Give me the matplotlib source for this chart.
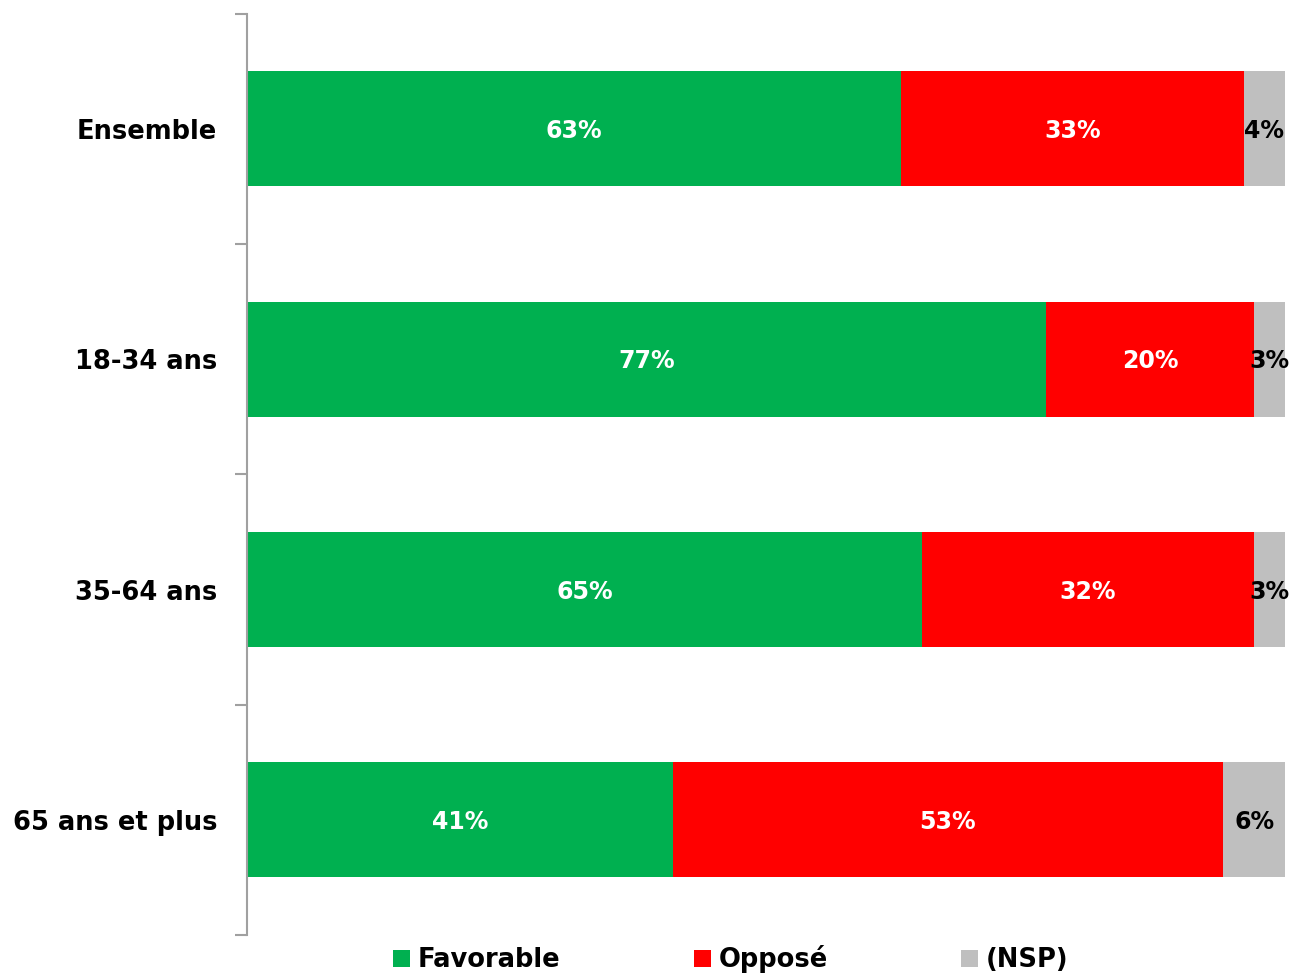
import matplotlib
matplotlib.use("Agg")
import matplotlib.pyplot as plt
import numpy as np

categories = ["Ensemble", "18-34 ans", "35-64 ans", "65 ans et plus"]
favorable = [63, 77, 65, 41]
oppose = [33, 20, 32, 53]
nsp = [4, 3, 3, 6]
series_names = ["Favorable", "Opposé", "(NSP)"]
colors = ["#00B050", "#FF0000", "#BFBFBF"]
text_colors = ["white", "white", "black"]

plt.rcParams["font.family"] = ["DejaVu Sans"]
plt.rcParams["font.weight"] = "bold"

fig = plt.figure(figsize=(12.93, 9.75), dpi=100)
ax = fig.add_axes([0.191, 0.041, 0.803, 0.945])

y = np.arange(len(categories))
left = np.zeros(len(categories))
for vals, name, col, tc in zip([favorable, oppose, nsp], series_names, colors, text_colors):
    vals = np.array(vals, dtype=float)
    ax.barh(y, vals, left=left, height=0.5, color=col, label=name)
    for yi, l, v in zip(y, left, vals):
        ax.text(l + v / 2, yi + 0.01, "%d%%" % v, ha="center", va="center",
                color=tc, fontsize=17, fontweight="bold")
    left += vals

ax.set_xlim(0, 100)
ax.set_ylim(len(categories) - 0.5, -0.5)
ax.set_xticks([])
ax.set_yticks(y)
ax.set_yticklabels(categories, fontsize=18.5, fontweight="bold")
ax.set_yticks(np.arange(-0.5, len(categories)), minor=True)
ax.tick_params(axis="y", which="major", length=0, pad=21.5)
ax.tick_params(axis="y", which="minor", length=9, color="#A0A0A0", width=1.5)
for s in ["top", "right", "bottom"]:
    ax.spines[s].set_visible(False)
ax.spines["left"].set_color("#A0A0A0")
ax.spines["left"].set_linewidth(1.5)

fig.legend(loc="lower center", bbox_to_anchor=(0.565, -0.022), ncol=3, frameon=False,
           fontsize=18.5, handlelength=0.66, handleheight=0.66, handletextpad=0.3,
           columnspacing=5.2)

fig.savefig("out.png", dpi=100)
